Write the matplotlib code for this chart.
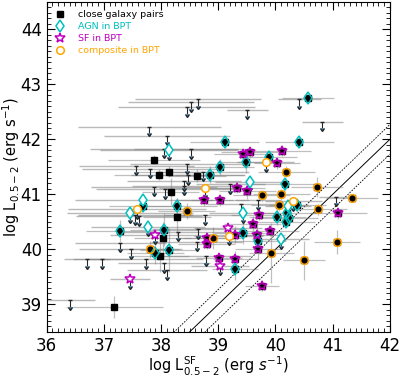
import numpy as np
import matplotlib
matplotlib.use("Agg")
import matplotlib.pyplot as plt
from matplotlib.lines import Line2D
from matplotlib.ticker import MultipleLocator

# detections: log L_SF (x), log L_X (y), errors, BPT class ('' = no class)
det_x = [37.88, 37.97, 38.14, 38.63, 38.17, 38.28, 38.03, 37.98, 37.18,
         38.28, 37.69, 37.29, 38.05, 37.90, 38.14, 39.11, 40.42, 40.57, 39.48,
         39.88, 38.85, 39.03, 40.16, 40.38, 40.21, 40.03, 40.19, 40.24, 39.43,
         39.69, 39.29,
         39.43, 39.55, 40.12, 40.03, 39.32, 39.51, 41.10, 39.60, 39.72, 39.30,
         39.67, 39.91, 39.69, 39.01, 39.30, 39.77, 38.75, 39.03, 38.80, 38.80,
         38.45, 37.81, 40.19, 40.73, 39.76, 40.10, 40.07, 41.34, 40.75, 38.90,
         39.93, 40.50, 41.08]
det_y = [41.63, 41.36, 41.41, 41.34, 41.05, 40.59, 40.20, 39.88, 38.96,
         40.79, 40.79, 40.34, 40.36, 39.93, 39.98, 41.95, 41.95, 42.75, 41.59,
         41.68, 41.36, 41.50, 41.18, 40.80, 40.66, 40.59, 40.50, 40.57, 40.29,
         40.16, 39.64,
         41.73, 41.77, 41.79, 41.57, 41.12, 41.07, 40.66, 40.46, 40.63, 40.27,
         40.27, 40.34, 40.00, 39.84, 39.82, 39.34, 40.89, 40.89, 40.20, 40.10,
         40.70, 40.00, 41.41, 41.14, 40.98, 41.00, 40.80, 40.93, 40.73, 40.21,
         39.93, 39.80, 40.13]
det_xerr = [0.80, 0.80, 0.60, 0.50, 0.50, 0.60, 0.50, 0.50, 0.85,
            0.70, 0.60, 0.60, 0.60, 0.50, 0.50, 0.60, 0.60, 0.45, 0.50,
            0.50, 0.60, 0.60, 0.60, 0.50, 0.50, 0.50, 0.50, 0.50, 0.50,
            0.50, 0.40,
            0.50, 0.50, 0.50, 0.40, 0.50, 0.50, 0.50, 0.50, 0.50, 0.50,
            0.50, 0.50, 0.40, 0.40, 0.40, 0.30, 0.50, 0.50, 0.50, 0.50,
            0.50, 0.50, 0.50, 0.45, 0.50, 0.50, 0.50, 0.45, 0.50, 0.50,
            0.40, 0.36, 0.40]
det_yerr = [0.08, 0.10, 0.10, 0.12, 0.25, 0.35, 0.30, 0.30, 0.20,
            0.15, 0.10, 0.20, 0.30, 0.20, 0.40, 0.10, 0.10, 0.05, 0.20,
            0.10, 0.15, 0.15, 0.10, 0.10, 0.10, 0.15, 0.10, 0.10, 0.20,
            0.20, 0.20,
            0.10, 0.10, 0.10, 0.10, 0.10, 0.15, 0.10, 0.15, 0.10, 0.15,
            0.20, 0.10, 0.20, 0.10, 0.15, 0.10, 0.10, 0.10, 0.10, 0.10,
            0.15, 0.15, 0.10, 0.18, 0.10, 0.10, 0.10, 0.05, 0.10, 0.20,
            0.55, 0.35, 0.22]
det_bpt = [''] * 9 + ['agn'] * 22 + ['sf'] * 20 + ['comp'] * 13

# upper limits in log L_X
ul_x = [38.52, 38.64, 38.45, 39.51, 40.42, 40.82, 37.79, 38.10, 38.05, 38.52,
        37.57, 37.81, 38.45, 38.47, 37.88, 38.07, 38.40, 38.73, 38.40, 39.21,
        39.40, 38.77, 39.69, 41.06, 37.29, 37.47, 37.74, 36.70, 36.96, 36.40,
        38.05, 38.10, 38.78, 38.30, 38.64, 38.62, 37.55, 37.62,
        38.14, 39.55, 37.69, 37.46, 37.77, 40.09, 39.44, 40.22,
        37.90, 37.45, 39.17, 39.03,
        37.58, 39.83, 38.77, 40.31, 39.18]
ul_y = [42.68, 42.73, 42.59, 42.54, 42.73, 42.32, 42.23, 42.07, 41.83, 41.82,
        41.52, 41.47, 41.55, 41.35, 41.14, 41.09, 41.24, 41.41, 41.16, 41.18,
        40.82, 40.62, 40.89, 40.96, 40.12, 40.00, 39.82, 39.82, 39.82, 39.08,
        39.75, 39.62, 39.88, 40.32, 40.37, 40.14, 40.62, 40.60,
        41.80, 41.23, 40.89, 40.66, 40.41, 40.18, 40.66, 40.78,
        40.27, 39.46, 40.39, 39.70,
        40.73, 41.59, 41.11, 40.88, 40.25]
ul_xerr = [1.10, 1.10, 1.20, 0.36, 0.37, 0.36, 1.25, 1.10, 1.30, 1.00,
           1.00, 1.20, 1.00, 1.00, 1.10, 1.20, 1.00, 0.80, 0.90, 0.60,
           0.60, 0.70, 0.40, 0.30, 0.80, 0.90, 1.00, 0.40, 0.50, 0.45,
           0.80, 0.70, 0.80, 1.00, 0.80, 0.80, 1.00, 1.10,
           1.20, 0.60, 1.20, 1.10, 1.00, 0.50, 0.60, 0.40,
           0.80, 0.35, 0.60, 0.50,
           1.20, 0.50, 0.80, 0.50, 0.60]
ul_bpt = [''] * 38 + ['agn'] * 8 + ['sf'] * 4 + ['comp'] * 5

SCATTER = 0.27

bpt_style = {
    'agn': dict(marker='d', ms=6, mec='c', label='AGN in BPT'),
    'sf': dict(marker='*', ms=7.5, mec='m', label='SF in BPT'),
    'comp': dict(marker='o', ms=5.5, mec='orange', label='composite in BPT'),
}

det_x = np.array(det_x); det_y = np.array(det_y)
det_xerr = np.array(det_xerr); det_yerr = np.array(det_yerr)
det_bpt = np.array(det_bpt)
ul_x = np.array(ul_x); ul_y = np.array(ul_y); ul_xerr = np.array(ul_xerr)
ul_bpt = np.array(ul_bpt)

fig = plt.figure(figsize=(3.99, 3.78), dpi=100)
ax = fig.add_axes([0.117, 0.122, 0.860, 0.873])

# upper limits: horizontal bar + down arrow
ax.errorbar(ul_x, ul_y, xerr=ul_xerr, fmt='none', ecolor='gray', alpha=0.55,
            elinewidth=1.0, zorder=1)
ax.errorbar(ul_x, ul_y, yerr=0.12, uplims=True, fmt='none', ecolor='0.15',
            elinewidth=0.8, capsize=1.5, zorder=2)

# detections
ax.errorbar(det_x, det_y, xerr=det_xerr, yerr=det_yerr, fmt='none',
            ecolor='gray', alpha=0.5, elinewidth=0.9, zorder=1)
ax.plot(det_x, det_y, 's', color='k', ms=3.8, zorder=3, linestyle='none')

for key, st in bpt_style.items():
    m = det_bpt == key
    ax.plot(det_x[m], det_y[m], linestyle='none', marker=st['marker'], ms=st['ms'],
            mfc='none', mec=st['mec'], mew=1.1, zorder=4)
    m = ul_bpt == key
    ax.plot(ul_x[m], ul_y[m], linestyle='none', marker=st['marker'], ms=st['ms'],
            mfc='white', mec=st['mec'], mew=1.1, zorder=4)

# one-to-one relation and its scatter
xx = np.array([36.0, 42.0])
ax.plot(xx, xx, 'k-', lw=0.7, zorder=0)
ax.plot(xx, xx + SCATTER, color='k', ls=(0, (2, 1.5)), lw=0.6, zorder=0)
ax.plot(xx, xx - SCATTER, color='k', ls=(0, (2, 1.5)), lw=0.6, zorder=0)

ax.set_xlim(36, 42)
ax.set_ylim(38.5, 44.5)
ax.xaxis.set_major_locator(MultipleLocator(1))
ax.yaxis.set_major_locator(MultipleLocator(1))
ax.xaxis.set_minor_locator(MultipleLocator(0.1))
ax.yaxis.set_minor_locator(MultipleLocator(0.1))
ax.tick_params(which='both', direction='in', top=True, right=True, labelsize=12)
ax.tick_params(which='major', length=6, pad=3.5)
ax.tick_params(which='minor', length=3)

ax.set_xlabel(r'log L$^{\rm SF}_{0.5-2}$ (erg $s^{-1}$)', fontsize=10.5, labelpad=0)
ax.set_ylabel(r'log L$_{0.5-2}$ (erg s$^{-1}$)', fontsize=10.5, labelpad=-1)

handles = [Line2D([], [], ls='none', marker='s', color='k', ms=3.8, label='close galaxy pairs')]
for key, st in bpt_style.items():
    handles.append(Line2D([], [], ls='none', marker=st['marker'], ms=st['ms'],
                          mfc='none', mec=st['mec'], mew=1.1, label=st['label']))
leg = ax.legend(handles=handles, loc='upper left', frameon=False, fontsize=6.8,
                handlelength=1.0, handletextpad=1.4, labelspacing=0.3,
                borderaxespad=0.5)
for txt, col in zip(leg.get_texts(), ['k', 'c', 'm', 'orange']):
    txt.set_color(col)

fig.savefig('out.png', dpi=100)
